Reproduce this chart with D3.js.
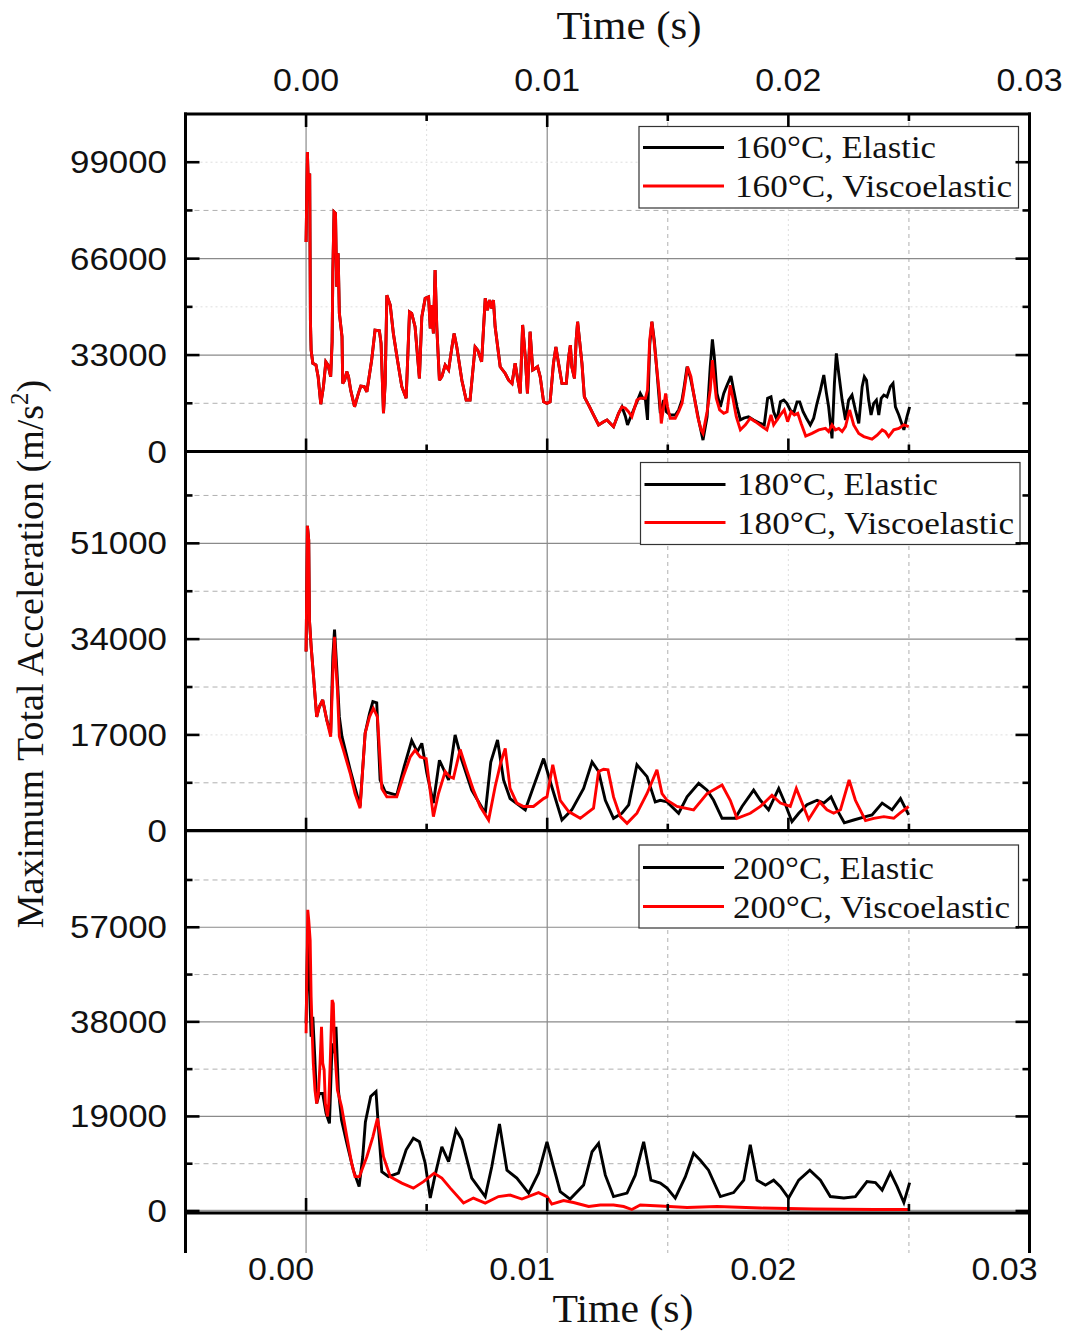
<!DOCTYPE html>
<html>
<head>
<meta charset="utf-8">
<title>Maximum total acceleration vs time</title>
<script src="https://cdn.jsdelivr.net/npm/d3@7/dist/d3.min.js"></script>
<style>
  html, body { margin: 0; padding: 0; background: #fff; }
  svg { display: block; }
</style>
</head>
<body>
<svg id="chart" width="1066" height="1337"></svg>
<script>
// ---------- data: time (s), maximum total acceleration (m/s^2) ----------
const timeTicks = [0, 0.01, 0.02, 0.03];
const timeTickLabels = ["0.00", "0.01", "0.02", "0.03"];

const accelTicks160 = [0, 33000, 66000, 99000];
const accelTicks180 = [0, 17000, 34000, 51000];
const accelTicks200 = [0, 19000, 38000, 57000];

const seriesNames160 = ["160°C, Elastic", "160°C, Viscoelastic"];
const seriesNames180 = ["180°C, Elastic", "180°C, Viscoelastic"];
const seriesNames200 = ["200°C, Elastic", "200°C, Viscoelastic"];

// 160°C: both models follow the same history up to ~13 ms
const shared160 = [[0,71700],[0.000055,102500],[0.00011,86000],[0.00015,95100],[0.00018,45000],[0.00021,34700],[0.00028,30200],[0.00041,29600],[0.0005,25600],[0.00061,16200],[0.00072,22200],[0.00082,30700],[0.00091,29600],[0.00102,25600],[0.00108,37600],[0.00111,61500],[0.00116,82000],[0.00122,81500],[0.00127,56400],[0.00133,67800],[0.00138,47300],[0.00149,39300],[0.00152,23300],[0.0016,24400],[0.00169,27300],[0.00176,25600],[0.00185,21000],[0.00201,15300],[0.00217,19900],[0.00227,22400],[0.00241,22200],[0.00252,20400],[0.00272,31300],[0.00286,41500],[0.00304,41300],[0.00311,37000],[0.00321,13100],[0.00328,23300],[0.00335,53500],[0.00349,50100],[0.00362,40400],[0.00379,31300],[0.00397,22200],[0.00415,18200],[0.00429,47800],[0.00438,47300],[0.00452,42700],[0.0047,25000],[0.0048,46100],[0.00494,52400],[0.00508,52900],[0.00515,42100],[0.00521,50100],[0.00528,40400],[0.00535,62100],[0.00542,42700],[0.00553,24400],[0.00563,25600],[0.00577,29600],[0.00591,27900],[0.00605,35800],[0.00614,40400],[0.00625,35800],[0.00646,24400],[0.00664,17600],[0.0068,17600],[0.00701,35800],[0.00712,34700],[0.00728,30700],[0.00743,52400],[0.00752,48400],[0.00761,51800],[0.0077,49000],[0.00777,51800],[0.00784,42700],[0.00805,29000],[0.00826,26700],[0.0084,24400],[0.00854,23300],[0.00867,30200],[0.00877,25000],[0.00888,19900],[0.00898,43300],[0.00909,32400],[0.00918,19900],[0.00929,41000],[0.0094,27900],[0.0095,28400],[0.0096,29000],[0.00971,25600],[0.00985,17000],[0.00999,16500],[0.01012,17000],[0.01026,30200],[0.01036,35800],[0.01047,30200],[0.01061,23300],[0.01079,23300],[0.01089,32400],[0.01096,36400],[0.01102,29000],[0.01113,25000],[0.0112,38100],[0.01126,44400],[0.01134,38100],[0.01144,30200],[0.01154,18700],[0.01172,15900],[0.01192,12500],[0.01213,9100],[0.01234,10200],[0.01248,10800],[0.01275,8500],[0.01296,13100],[0.0131,15300]];

const elastic160 = shared160.concat([[0.01324,12100],[0.01333,9100],[0.01344,11400],[0.01358,14200],[0.01372,17000],[0.01386,19900],[0.01397,18200],[0.01407,17900],[0.01416,10800],[0.01425,36400],[0.01434,44400],[0.01444,38100],[0.01458,24400],[0.01469,13100],[0.01483,17600],[0.01494,13600],[0.0151,12500],[0.01531,12500],[0.01545,14200],[0.01559,17600],[0.01568,22200],[0.0158,29000],[0.01593,25600],[0.01607,19900],[0.01628,10800],[0.01646,3900],[0.01663,11900],[0.01676,29000],[0.01685,38400],[0.01693,32400],[0.01704,19900],[0.01718,15300],[0.01732,19900],[0.01746,22700],[0.01762,25800],[0.01773,21000],[0.01787,15300],[0.01801,10800],[0.01815,11400],[0.01835,11900],[0.01856,10800],[0.01884,9600],[0.019,9100],[0.01914,18200],[0.01928,18700],[0.01939,13600],[0.01953,10800],[0.01967,17000],[0.01981,17600],[0.01994,16500],[0.02008,14200],[0.02022,13100],[0.02036,17000],[0.02047,17000],[0.02061,13600],[0.02075,11400],[0.02091,9100],[0.02105,11400],[0.02119,16500],[0.02133,21000],[0.02147,26200],[0.02158,19900],[0.02167,15300],[0.02181,4500],[0.02191,23300],[0.02199,33600],[0.02209,26700],[0.02223,17600],[0.02237,10800],[0.0225,17600],[0.02264,19300],[0.02278,14200],[0.02292,9600],[0.02306,22200],[0.02315,25600],[0.02324,24400],[0.02333,17600],[0.02343,12500],[0.02354,16500],[0.02365,17600],[0.02375,12500],[0.02385,18200],[0.02396,19300],[0.02409,18700],[0.02423,22200],[0.02434,23300],[0.02444,15300],[0.02458,12500],[0.02479,7400],[0.02492,11900],[0.02503,15300]]);

const visco160 = shared160.concat([[0.01324,14800],[0.01337,13600],[0.01351,11900],[0.01372,17600],[0.01386,18200],[0.01407,18200],[0.01416,21000],[0.01425,38100],[0.01434,44400],[0.01444,37000],[0.01455,27900],[0.01465,19900],[0.01473,9600],[0.01483,15300],[0.01491,19900],[0.01499,15300],[0.0151,11400],[0.01531,11400],[0.01545,13600],[0.01559,16500],[0.01568,21000],[0.01582,29000],[0.01596,25600],[0.01607,19900],[0.01624,11900],[0.01638,7400],[0.01646,6200],[0.01663,13600],[0.01676,21000],[0.01685,31300],[0.01693,24400],[0.01701,18200],[0.01715,14200],[0.01732,13100],[0.01746,13600],[0.01759,22700],[0.0177,18200],[0.01784,11900],[0.01801,7400],[0.01822,9100],[0.01842,11400],[0.01863,10200],[0.01891,8500],[0.01911,7400],[0.01928,12500],[0.01939,9100],[0.01953,10800],[0.01967,12500],[0.01983,14200],[0.01997,10200],[0.02011,13600],[0.02025,12500],[0.02039,13100],[0.02053,9600],[0.02072,5300],[0.02098,6200],[0.02126,7400],[0.02154,7900],[0.02167,6800],[0.02181,9100],[0.02195,7400],[0.02209,7900],[0.02223,6800],[0.02237,8500],[0.02254,14200],[0.02271,9100],[0.02292,6200],[0.02313,5100],[0.02347,4200],[0.02368,5600],[0.02389,7400],[0.02402,6800],[0.02416,5100],[0.02437,7400],[0.02458,7900],[0.02479,9100],[0.02499,8500]]);

const elastic180 = [[0,31800],[0.000055,54100],[0.00011,51600],[0.00014,37400],[0.00021,32700],[0.0003,27900],[0.00044,20200],[0.00055,22000],[0.00069,23200],[0.00086,19600],[0.00102,17300],[0.00111,30900],[0.00118,35700],[0.00127,29100],[0.00138,20200],[0.00149,16700],[0.00183,10800],[0.00224,4300],[0.00245,17300],[0.00263,20800],[0.00277,22900],[0.00293,22700],[0.00307,9000],[0.00328,6900],[0.00376,6300],[0.00407,11400],[0.00438,16000],[0.00461,14000],[0.0048,15500],[0.00501,10200],[0.00528,4900],[0.00553,12500],[0.00591,9000],[0.00618,17000],[0.00646,12500],[0.00687,7200],[0.00743,3100],[0.00766,12200],[0.00794,16100],[0.00819,9000],[0.00846,5700],[0.00909,3700],[0.00943,7800],[0.00985,12800],[0.01019,7800],[0.01061,1900],[0.01102,3700],[0.01151,7500],[0.01186,12200],[0.01213,10500],[0.01241,5400],[0.01275,2200],[0.0131,3100],[0.01338,4600],[0.01372,11700],[0.01414,9600],[0.01448,5100],[0.01469,5400],[0.01497,5100],[0.01545,3100],[0.0158,6000],[0.01628,8400],[0.01663,7200],[0.0169,5400],[0.01725,2200],[0.0178,2200],[0.01808,4300],[0.01856,7200],[0.01884,5400],[0.01918,3700],[0.0196,7500],[0.01981,5400],[0.02015,1600],[0.02043,3100],[0.02077,4600],[0.02119,5400],[0.02147,4900],[0.02177,6000],[0.02202,3700],[0.02232,1400],[0.02271,1900],[0.0232,2500],[0.02347,2800],[0.02389,4900],[0.0243,3700],[0.02465,5700],[0.02499,2800]];

const visco180 = [[0,31800],[0.000055,54100],[0.00011,51600],[0.00014,37400],[0.00021,32700],[0.0003,27900],[0.00044,20200],[0.00055,22000],[0.00069,23200],[0.00086,19600],[0.00102,16700],[0.00111,27900],[0.00118,34400],[0.00124,29100],[0.0013,25000],[0.00138,16700],[0.00155,14300],[0.00183,10200],[0.00203,6600],[0.00224,4000],[0.00245,17300],[0.00263,20200],[0.00279,21700],[0.00296,20200],[0.00314,7500],[0.00335,6000],[0.00376,6000],[0.00403,9600],[0.00432,13100],[0.00452,14300],[0.00473,13100],[0.00498,12800],[0.00528,2500],[0.00549,6600],[0.00577,10500],[0.00595,9600],[0.00611,9300],[0.00639,14400],[0.00666,10800],[0.00694,7200],[0.00722,4300],[0.00757,1900],[0.00784,7800],[0.00808,12200],[0.00826,14600],[0.00846,7500],[0.00874,4900],[0.00902,4300],[0.00943,4300],[0.00985,5700],[0.00999,6000],[0.01023,11700],[0.01054,5400],[0.01089,3400],[0.01137,2200],[0.01192,4000],[0.01213,10500],[0.01234,10900],[0.01252,10800],[0.01275,6000],[0.01303,2500],[0.01331,1300],[0.01372,3100],[0.01414,6600],[0.01455,10800],[0.01476,6600],[0.01497,5400],[0.01538,4300],[0.01607,3700],[0.01663,6600],[0.01725,8100],[0.01759,5400],[0.01787,2200],[0.01842,3100],[0.01884,4300],[0.01932,6300],[0.01967,4900],[0.02008,4300],[0.02033,7500],[0.02057,4900],[0.02084,2000],[0.0213,5100],[0.0216,3700],[0.02188,3100],[0.02216,3700],[0.02252,9000],[0.02278,5400],[0.0232,1800],[0.02354,2200],[0.02396,2500],[0.02437,2200],[0.02465,3200],[0.02499,4300]];

const elastic200 = [[0,37700],[0.00007,56500],[0.00014,45100],[0.00021,35000],[0.00028,39000],[0.00036,31000],[0.00044,21600],[0.00055,23600],[0.00069,23600],[0.00083,19600],[0.00097,17600],[0.00108,33700],[0.00116,31700],[0.00124,37000],[0.00134,24300],[0.00147,18300],[0.00169,13600],[0.00196,8200],[0.0022,4900],[0.00235,10900],[0.00246,17900],[0.00268,23000],[0.0029,24000],[0.003,16900],[0.00314,7900],[0.00342,6900],[0.00383,7600],[0.00415,12300],[0.00445,14600],[0.0047,13900],[0.00494,9600],[0.00515,2600],[0.00535,7200],[0.00563,12900],[0.00591,9900],[0.00622,16300],[0.00646,14300],[0.00687,6600],[0.00743,2900],[0.0077,8900],[0.00802,17500],[0.00833,8200],[0.00874,6600],[0.00923,3600],[0.00964,7600],[0.00999,13900],[0.01026,8900],[0.01054,3900],[0.01095,2400],[0.01151,5200],[0.01186,11900],[0.01213,13600],[0.01241,7200],[0.01275,2900],[0.01331,3600],[0.01365,7200],[0.014,13900],[0.0143,6200],[0.01469,5600],[0.01497,4600],[0.01531,2600],[0.01573,6900],[0.01607,11600],[0.01635,10200],[0.01669,8200],[0.01718,2900],[0.01773,3700],[0.01815,6200],[0.01842,13300],[0.0187,6200],[0.01905,5200],[0.01939,6200],[0.01967,4900],[0.02001,2600],[0.02043,6200],[0.02089,8200],[0.02133,6200],[0.02174,2900],[0.0223,2600],[0.02278,2900],[0.02326,5900],[0.02361,5700],[0.02389,4200],[0.02423,7700],[0.02451,4900],[0.02479,1700],[0.02503,5700]];

const visco200 = [[0,35700],[0.00007,60500],[0.00011,58500],[0.00017,54400],[0.00021,43000],[0.00026,35000],[0.0003,29700],[0.00037,24300],[0.00044,21600],[0.00051,23600],[0.00058,29700],[0.00064,37000],[0.00069,29700],[0.00075,28300],[0.0008,21600],[0.00089,19000],[0.00094,21600],[0.001,29700],[0.00108,42400],[0.00113,41700],[0.00118,33000],[0.0013,24300],[0.00147,21000],[0.00169,14900],[0.00189,9600],[0.00203,6900],[0.00221,6900],[0.00252,10900],[0.00277,14900],[0.00296,18600],[0.00304,16300],[0.00321,10900],[0.00349,6900],[0.00397,5600],[0.00445,4600],[0.00487,5900],[0.00531,7600],[0.00563,6600],[0.00598,4600],[0.00653,1600],[0.00694,2600],[0.00743,1600],[0.00798,2900],[0.00846,3200],[0.00895,2400],[0.00964,3700],[0.00999,2900],[0.01019,1400],[0.01068,2100],[0.01109,1700],[0.01172,900],[0.0122,1200],[0.01275,1200],[0.01317,900],[0.01351,300],[0.01386,1200],[0.01469,1000],[0.0158,700],[0.01704,900],[0.01884,600],[0.02105,400],[0.02354,300],[0.02499,300]];

// ---------- layout ----------
const sans = "'Liberation Sans', Arial, Helvetica, sans-serif";
const serif = "'Liberation Serif', 'Times New Roman', Times, serif";
const LEFT = 185.5, RIGHT = 1029.5, TOP = 114, STRIP_BOTTOM = 1253;
const colors = ["#000000", "#ff0000"];

const svg = d3.select("#chart");
svg.append("rect").attr("width", 1066).attr("height", 1337).attr("fill", "#fff");

const x = d3.scaleLinear().domain([-0.005, 0.03]).range([LEFT, RIGHT]);
const xMinor = [0.005, 0.015, 0.025];

const panels = [
  { ticks: accelTicks160, max: 115500, y0: 451.5, y1: TOP,
    series: [elastic160, visco160], names: seriesNames160,
    grid: { solid: [33000, 66000], dashed: [16500, 82500], faint: [49500, 99000] },
    legend: { x0: 639, y0: 126.5, x1: 1018.5, y1: 208, rows: [147.5, 186], textX: 735, base: [158, 197] } },
  { ticks: accelTicks180, max: 67300, y0: 830.7, y1: 451.5,
    series: [elastic180, visco180], names: seriesNames180,
    grid: { solid: [34000, 51000], dashed: [8500, 25500, 42500, 59500], faint: [17000] },
    legend: { x0: 640.5, y0: 462.5, x1: 1020, y1: 544.5, rows: [484.5, 522.5], textX: 737, base: [495, 534] } },
  { ticks: accelTicks200, max: 76400, y0: 1211, y1: 830.7,
    series: [elastic200, visco200], names: seriesNames200,
    grid: { solid: [19000, 38000, 57000], dashed: [9500, 28500, 47500, 66500], faint: [] },
    legend: { x0: 639, y0: 845, x1: 1018.5, y1: 928, rows: [867.5, 906.5], textX: 733, base: [878.5, 917.5] } }
];
panels.forEach(p => { p.y = d3.scaleLinear().domain([0, p.max]).range([p.y0, p.y1]); });

// ---------- vertical grid (runs through all panels) ----------
const gVGrid = svg.append("g");
const vGridStyle = [
  { vals: [0, 0.01], stroke: "#8a8a8a", dash: null, w: 1.2 },
  { vals: [0.015, 0.025], stroke: "#b0b0b0", dash: "4,4", w: 1 },
  { vals: [0.005, 0.02], stroke: "#dedede", dash: "2,3", w: 1 }
];
vGridStyle.forEach(s => {
  gVGrid.selectAll(null).data(s.vals).join("line")
    .attr("x1", d => x(d)).attr("x2", d => x(d))
    .attr("y1", TOP).attr("y2", STRIP_BOTTOM)
    .attr("stroke", s.stroke).attr("stroke-width", s.w)
    .attr("stroke-dasharray", s.dash);
});

// ---------- horizontal grid per panel ----------
panels.forEach(p => {
  const g = svg.append("g");
  const styles = [
    { vals: p.grid.solid, stroke: "#8a8a8a", dash: null, w: 1.2 },
    { vals: p.grid.dashed, stroke: "#b0b0b0", dash: "5,4", w: 1 },
    { vals: p.grid.faint, stroke: "#dedede", dash: "2,3", w: 1 }
  ];
  styles.forEach(s => {
    g.selectAll(null).data(s.vals).join("line")
      .attr("x1", LEFT).attr("x2", RIGHT)
      .attr("y1", d => p.y(d)).attr("y2", d => p.y(d))
      .attr("stroke", s.stroke).attr("stroke-width", s.w)
      .attr("stroke-dasharray", s.dash);
  });
});
// zero line of the lowest panel
svg.append("line")
  .attr("x1", LEFT).attr("x2", RIGHT)
  .attr("y1", panels[2].y(0) - 0.5).attr("y2", panels[2].y(0) - 0.5)
  .attr("stroke", "#9a9a9a").attr("stroke-width", 1.5);

// ---------- series ----------
panels.forEach(p => {
  const line = d3.line().x(d => x(d[0])).y(d => p.y(d[1]));
  svg.append("g").selectAll("path").data(p.series).join("path")
    .attr("d", line)
    .attr("fill", "none")
    .attr("stroke", (d, i) => colors[i])
    .attr("stroke-width", 2.9)
    .attr("stroke-linejoin", "miter")
    .attr("stroke-miterlimit", 3);
});

// ---------- legends ----------
panels.forEach(p => {
  const L = p.legend;
  const g = svg.append("g");
  g.append("rect")
    .attr("x", L.x0).attr("y", L.y0)
    .attr("width", L.x1 - L.x0).attr("height", L.y1 - L.y0)
    .attr("fill", "#fff").attr("stroke", "#333").attr("stroke-width", 1.2);
  const rows = g.selectAll("g.row").data(p.names).join("g").attr("class", "row");
  rows.append("line")
    .attr("x1", L.x0 + 4).attr("x2", L.x0 + 85)
    .attr("y1", (d, i) => L.rows[i]).attr("y2", (d, i) => L.rows[i])
    .attr("stroke", (d, i) => colors[i]).attr("stroke-width", 3.2);
  rows.append("text")
    .attr("x", L.textX).attr("y", (d, i) => L.base[i])
    .attr("font-family", serif).attr("font-size", 32)
    .attr("fill", "#111")
    .attr("textLength", (d, i) => i === 0 ? 201 : 277)
    .attr("lengthAdjust", "spacingAndGlyphs")
    .text(d => d);
});

// ---------- frame: spines, panel borders, ticks ----------
const frame = svg.append("g").attr("stroke", "#000");
frame.append("line").attr("x1", LEFT).attr("x2", LEFT).attr("y1", TOP - 1.5).attr("y2", STRIP_BOTTOM).attr("stroke-width", 3);
frame.append("line").attr("x1", RIGHT).attr("x2", RIGHT).attr("y1", TOP - 1.5).attr("y2", STRIP_BOTTOM).attr("stroke-width", 3);
frame.append("line").attr("x1", LEFT - 1.5).attr("x2", RIGHT + 1.5).attr("y1", TOP).attr("y2", TOP).attr("stroke-width", 3);
panels.forEach((p, i) => {
  const yb = i === 2 ? p.y0 + 2 : p.y0;
  frame.append("line").attr("x1", LEFT - 1.5).attr("x2", RIGHT + 1.5).attr("y1", yb).attr("y2", yb).attr("stroke-width", 3.2);
});

// x ticks: top of the upper panel (pointing down) and bottom of each panel (pointing up)
const xMajorInner = timeTicks.filter(t => t > -0.005 && t < 0.03);
function xTicks(yLine, dir) {
  frame.selectAll(null).data(xMajorInner).join("line")
    .attr("x1", d => x(d)).attr("x2", d => x(d))
    .attr("y1", yLine).attr("y2", yLine + dir * 13).attr("stroke-width", 2.6);
  frame.selectAll(null).data(xMinor).join("line")
    .attr("x1", d => x(d)).attr("x2", d => x(d))
    .attr("y1", yLine).attr("y2", yLine + dir * 7).attr("stroke-width", 2.6);
}
xTicks(TOP, 1);
panels.forEach(p => xTicks(p.y0, -1));

// y ticks on both spines (pointing inward)
panels.forEach(p => {
  const step = p.ticks[1] - p.ticks[0];
  const major = p.ticks;
  const minor = d3.range(step / 2, p.max, step);
  [[LEFT, 1], [RIGHT, -1]].forEach(([xs, dir]) => {
    frame.selectAll(null).data(major).join("line")
      .attr("x1", xs).attr("x2", xs + dir * 14)
      .attr("y1", d => p.y(d)).attr("y2", d => p.y(d)).attr("stroke-width", 2.6);
    frame.selectAll(null).data(minor).join("line")
      .attr("x1", xs).attr("x2", xs + dir * 7)
      .attr("y1", d => p.y(d)).attr("y2", d => p.y(d)).attr("stroke-width", 2.6);
  });
});

// ---------- tick labels ----------
const labels = svg.append("g").attr("font-family", sans).attr("font-size", 31).attr("fill", "#111");
panels.forEach(p => {
  labels.selectAll(null).data(p.ticks).join("text")
    .attr("x", 167).attr("y", d => p.y(d) + 11)
    .attr("text-anchor", "end")
    .attr("textLength", d => String(d).length * 19.4)
    .attr("lengthAdjust", "spacingAndGlyphs")
    .text(d => String(d));
});
labels.selectAll(null).data(timeTicks).join("text")
  .attr("x", d => x(d)).attr("y", 91)
  .attr("text-anchor", "middle")
  .attr("textLength", 66).attr("lengthAdjust", "spacingAndGlyphs")
  .text((d, i) => timeTickLabels[i]);
labels.selectAll(null).data(timeTicks).join("text")
  .attr("x", d => x(d) - 25).attr("y", 1280)
  .attr("text-anchor", "middle")
  .attr("textLength", 66).attr("lengthAdjust", "spacingAndGlyphs")
  .text((d, i) => timeTickLabels[i]);

// ---------- axis titles ----------
svg.append("text")
  .attr("x", 629).attr("y", 39)
  .attr("text-anchor", "middle")
  .attr("font-family", serif).attr("font-size", 39).attr("fill", "#111")
  .attr("textLength", 145).attr("lengthAdjust", "spacingAndGlyphs")
  .text("Time (s)");
svg.append("text")
  .attr("x", 623).attr("y", 1322)
  .attr("text-anchor", "middle")
  .attr("font-family", serif).attr("font-size", 39).attr("fill", "#111")
  .attr("textLength", 141).attr("lengthAdjust", "spacingAndGlyphs")
  .text("Time (s)");

const yTitle = svg.append("text")
  .attr("transform", "translate(43,654) rotate(-90)")
  .attr("text-anchor", "middle")
  .attr("font-family", serif).attr("font-size", 38).attr("fill", "#111");
yTitle.append("tspan").text("Maximum Total Acceleration (m/s");
yTitle.append("tspan").attr("font-size", 25).attr("dy", -15).text("2");
yTitle.append("tspan").attr("dy", 15).text(")");
</script>
</body>
</html>
